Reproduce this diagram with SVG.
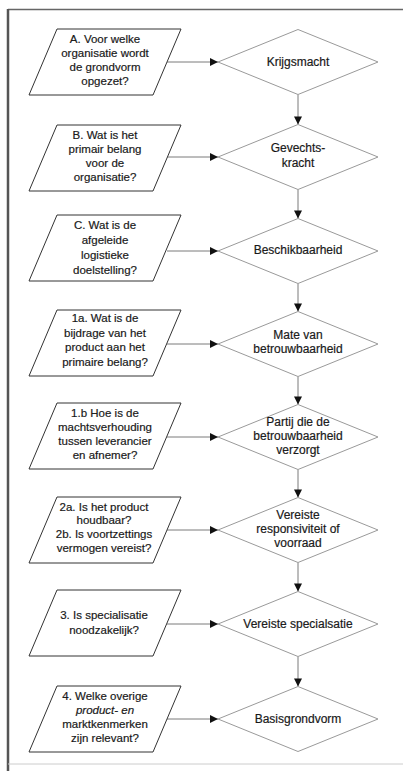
<svg xmlns="http://www.w3.org/2000/svg" width="403" height="771" viewBox="0 0 403 771">
<style>
.pg{fill:#fff;stroke:#333;stroke-width:1}
.dm{fill:#fff;stroke:#9a9a9a;stroke-width:1}
.t{font-family:"Liberation Sans",Arial,sans-serif;font-size:11.5px;fill:#111;stroke:#333;stroke-width:0.2;text-anchor:middle}
.d{font-size:12px}
.c{stroke:#7a7a7a;stroke-width:1;fill:none;marker-end:url(#ah)}
</style>
<defs>
<marker id="ah" viewBox="0 0 10 10" refX="10" refY="5" markerWidth="9" markerHeight="8" markerUnits="userSpaceOnUse" orient="auto">
<path d="M0,0 L10,5 L0,10 z" fill="#111"/>
</marker>
<path id="para" d="M57,0 L181,0 L153,66 L29,66 Z"/>
<path id="dia" d="M218,0 L298,-32.5 L378,0 L298,32.5 Z"/>
</defs>
<rect x="0" y="0" width="403" height="771" fill="#fff"/>
<g id="frame">
<line x1="8" y1="9.5" x2="403" y2="9.5" stroke="#666" stroke-width="1.5"/>
<line x1="8" y1="9" x2="8" y2="771" stroke="#555" stroke-width="2.5"/>
<line x1="8" y1="764" x2="403" y2="764" stroke="#ccc" stroke-width="1"/>
</g>
<g id="connectors">
<line class="c" x1="167" y1="62" x2="218" y2="62"/>
<line class="c" x1="167" y1="157" x2="218" y2="157"/>
<line class="c" x1="167" y1="251" x2="218" y2="251"/>
<line class="c" x1="167" y1="344" x2="218" y2="344"/>
<line class="c" x1="167" y1="437" x2="218" y2="437"/>
<line class="c" x1="167" y1="530" x2="218" y2="530"/>
<line class="c" x1="167" y1="624" x2="218" y2="624"/>
<line class="c" x1="167" y1="719" x2="218" y2="719"/>
<line class="c" x1="298" y1="94.5" x2="298" y2="124.5"/>
<line class="c" x1="298" y1="189.5" x2="298" y2="218.5"/>
<line class="c" x1="298" y1="283.5" x2="298" y2="311.5"/>
<line class="c" x1="298" y1="376.5" x2="298" y2="404.5"/>
<line class="c" x1="298" y1="469.5" x2="298" y2="497.5"/>
<line class="c" x1="298" y1="562.5" x2="298" y2="591.5"/>
<line class="c" x1="298" y1="656.5" x2="298" y2="686.5"/>
</g>
<g id="qA">
<use href="#para" class="pg" transform="translate(0,29)"/>
<text class="t" x="105" y="43">A. Voor welke</text>
<text class="t" x="105" y="57">organisatie wordt</text>
<text class="t" x="105" y="71">de grondvorm</text>
<text class="t" x="105" y="85">opgezet?</text>
</g>
<g id="dKrijgsmacht">
<use href="#dia" class="dm" transform="translate(0,62)"/>
<text class="t d" x="298" y="66">Krijgsmacht</text>
</g>
<g id="qB">
<use href="#para" class="pg" transform="translate(0,125)"/>
<text class="t" x="105" y="139">B. Wat is het</text>
<text class="t" x="105" y="153">primair belang</text>
<text class="t" x="105" y="167">voor de</text>
<text class="t" x="105" y="181">organisatie?</text>
</g>
<g id="dGevechtskracht">
<use href="#dia" class="dm" transform="translate(0,157)"/>
<text class="t d" x="298" y="152">Gevechts-</text>
<text class="t d" x="298" y="167">kracht</text>
</g>
<g id="qC">
<use href="#para" class="pg" transform="translate(0,215)"/>
<text class="t" x="105" y="229">C. Wat is de</text>
<text class="t" x="105" y="244">afgeleide</text>
<text class="t" x="105" y="259">logistieke</text>
<text class="t" x="105" y="274">doelstelling?</text>
</g>
<g id="dBeschikbaarheid">
<use href="#dia" class="dm" transform="translate(0,251)"/>
<text class="t d" x="298" y="254">Beschikbaarheid</text>
</g>
<g id="q1a">
<use href="#para" class="pg" transform="translate(0,310)"/>
<text class="t" x="105" y="322">1a. Wat is de</text>
<text class="t" x="105" y="337">bijdrage van het</text>
<text class="t" x="105" y="351">product aan het</text>
<text class="t" x="105" y="366">primaire belang?</text>
</g>
<g id="dMate">
<use href="#dia" class="dm" transform="translate(0,344)"/>
<text class="t d" x="298" y="339">Mate van</text>
<text class="t d" x="298" y="353">betrouwbaarheid</text>
</g>
<g id="q1b">
<use href="#para" class="pg" transform="translate(0,403)"/>
<text class="t" x="105" y="417">1.b Hoe is de</text>
<text class="t" x="105" y="431">machtsverhouding</text>
<text class="t" x="105" y="445">tussen leverancier</text>
<text class="t" x="105" y="459">en afnemer?</text>
</g>
<g id="dPartij">
<use href="#dia" class="dm" transform="translate(0,437)"/>
<text class="t d" x="298" y="426">Partij die de</text>
<text class="t d" x="298" y="440">betrouwbaarheid</text>
<text class="t d" x="298" y="454">verzorgt</text>
</g>
<g id="q2">
<use href="#para" class="pg" transform="translate(0,497)"/>
<text class="t" x="104" y="511">2a. Is het product</text>
<text class="t" x="104" y="524">houdbaar?</text>
<text class="t" x="104" y="538">2b. Is voortzettings</text>
<text class="t" x="104" y="552">vermogen vereist?</text>
</g>
<g id="dResponsiviteit">
<use href="#dia" class="dm" transform="translate(0,530)"/>
<text class="t d" x="298" y="519">Vereiste</text>
<text class="t d" x="298" y="533">responsiviteit of</text>
<text class="t d" x="298" y="547">voorraad</text>
</g>
<g id="q3">
<use href="#para" class="pg" transform="translate(0,590)"/>
<text class="t" x="104" y="619">3. Is specialisatie</text>
<text class="t" x="104" y="634">noodzakelijk?</text>
</g>
<g id="dSpecialisatie">
<use href="#dia" class="dm" transform="translate(0,624)"/>
<text class="t d" x="298" y="628">Vereiste specialsatie</text>
</g>
<g id="q4">
<use href="#para" class="pg" transform="translate(0,686)"/>
<text class="t" x="105" y="700">4. Welke overige</text>
<text class="t" x="105" y="714" font-style="italic">product- en</text>
<text class="t" x="105" y="728">marktkenmerken</text>
<text class="t" x="105" y="742">zijn relevant?</text>
</g>
<g id="dBasisgrondvorm">
<use href="#dia" class="dm" transform="translate(0,719)"/>
<text class="t d" x="298" y="723">Basisgrondvorm</text>
</g>
</svg>
